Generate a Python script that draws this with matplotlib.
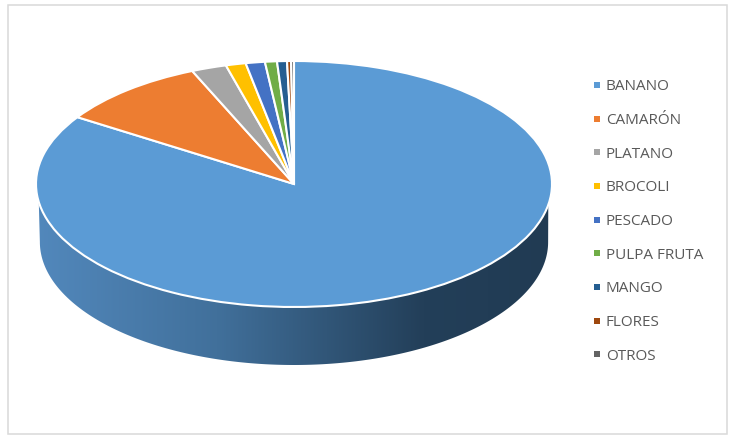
import numpy as np
import matplotlib
matplotlib.use("Agg")
import matplotlib.pyplot as plt
from matplotlib.lines import Line2D
from matplotlib.patches import Polygon, Rectangle
from matplotlib.colors import LinearSegmentedColormap

categories = ["BANANO", "CAMARÓN", "PLATANO", "BROCOLI", "PESCADO",
              "PULPA FRUTA", "MANGO", "FLORES", "OTROS"]
values = [84.1, 9.4, 2.2, 1.25, 1.2, 0.75, 0.62, 0.25, 0.18]
colors = ["#5B9BD5", "#ED7D31", "#A5A5A5", "#FFC000", "#4472C4",
          "#70AD47", "#255E91", "#9E480E", "#636363"]

W, H = 735, 442
CX, CY, RX, RY, DEPTH = 294, 184, 258, 123, 58

fig = plt.figure(figsize=(W / 100, H / 100), dpi=100, facecolor="white")
ax = fig.add_axes([0, 0, 1, 1])

# Frame, in figure pixels
fig.add_artist(Rectangle((8 / W, 1 - 434 / H), 719 / W, 429 / H, transform=fig.transFigure,
                         fill=False, edgecolor="#D9D9D9", linewidth=1.1))

# Side wall of the disc: gradient clipped to the swept ellipse
d = DEPTH / RY
t_top = np.linspace(np.pi + 0.147, 2 * np.pi - 0.17, 300)
t_bot = np.linspace(np.pi, 2 * np.pi, 300)
outline = np.column_stack([
    np.r_[0.985 * np.cos(t_bot), np.cos(t_top)[::-1]],
    np.r_[np.sin(t_bot) - d, np.sin(t_top)[::-1]],
])
cmap = LinearSegmentedColormap.from_list(
    "side", [(0, "#5288BC"), (0.35, "#41709B"), (0.75, "#233F59"), (1, "#213B53")])
img = ax.imshow(np.linspace(0, 1, 256).reshape(1, -1), cmap=cmap, aspect="auto",
                extent=(-1, 1, -1 - d, 0), zorder=1)
clip = Polygon(outline, closed=True, transform=ax.transData, fill=False, edgecolor="none")
ax.add_patch(clip)
img.set_clip_path(clip)

# Top face
ax.pie(values, colors=colors, startangle=90, counterclock=False, radius=1, center=(0, 0),
       wedgeprops=dict(edgecolor="white", linewidth=1.5, zorder=2), frame=False)

ax.set_aspect("auto")
ax.set_xlim(-CX / RX, (W - CX) / RX)
ax.set_ylim((CY - H) / RY, CY / RY)
ax.axis("off")

# Legend
handles = [Line2D([], [], linestyle="none", marker="s", markersize=4.4, color=c,
                  markeredgewidth=0) for c in colors]
fig.legend(handles, categories, loc="upper left", bbox_to_anchor=(587.5 / W, 1 - 74.9 / H),
           frameon=False, prop=dict(family="Open Sans", size=11), labelcolor="#595959",
           handlelength=0.6, handletextpad=0.3, labelspacing=1.22, borderpad=0.3,
           borderaxespad=0)

fig.savefig("out.png", dpi=100, facecolor="white")
